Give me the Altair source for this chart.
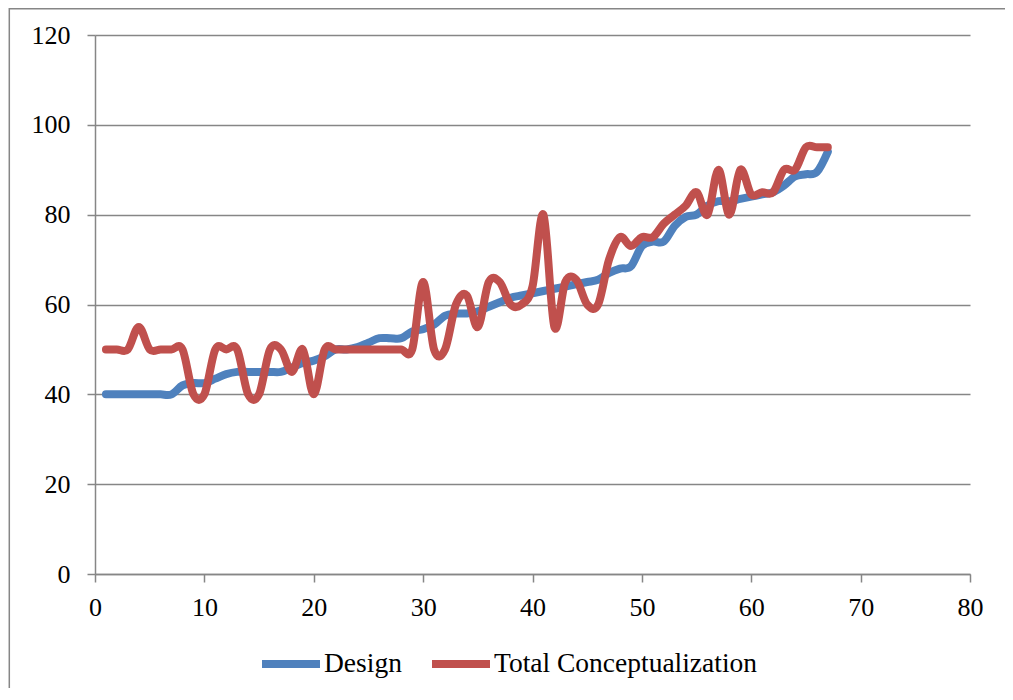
import altair as alt
import pandas as pd

x_vals = list(range(1, 68))

design = [40, 40, 40, 40, 40, 40, 40, 42, 42.5, 42.5,
          43.5, 44.5, 45, 45, 45, 45, 45, 46, 47, 47.5,
          48.5, 50, 50, 50.5, 51.5, 52.5, 52.5, 52.5, 54, 54.5,
          55.5, 57.5, 58, 58, 58.5, 59.5, 60.5, 61.5, 62, 62.5,
          63, 63.5, 64, 64.5, 65, 65.5, 67, 68, 68.5, 73,
          74, 74, 77.5, 79.5, 80, 82, 83, 83, 83.5, 84,
          84.5, 85, 86.5, 88.5, 89, 89.5, 94]

total = [50, 50, 50, 55, 50, 50, 50, 50, 40, 40,
         50, 50, 50, 40, 40, 50, 50, 45, 50, 40,
         50, 50, 50, 50, 50, 50, 50, 50, 50, 65,
         50, 50, 60, 62, 55, 65, 65, 60, 60, 64,
         80, 55, 65, 65.5, 60, 60, 70, 75, 73, 75,
         75, 78, 80, 82, 85, 80, 90, 80, 90, 84.5,
         85, 85, 90, 90, 95, 95, 95]

series_names = ["Design", "Total Conceptualization"]
series_colors = ["#4F81BD", "#C0504D"]
x_ticks = [0, 10, 20, 30, 40, 50, 60, 70, 80]
y_ticks = [0, 20, 40, 60, 80, 100, 120]

rows = []
for name, vals in zip(series_names, [design, total]):
    for xv, v in zip(x_vals, vals):
        rows.append({"x": xv, "value": v, "series": name})
df = pd.DataFrame(rows)

FONT = "Liberation Serif"
GRAY = "#868686"

lines = alt.Chart(df).mark_line(
    interpolate="cardinal", strokeWidth=8, strokeCap="round", strokeJoin="round"
).encode(
    x=alt.X("x:Q", scale=alt.Scale(domain=[0, 80], nice=False),
            axis=alt.Axis(values=x_ticks, title=None, grid=False, labelPadding=12,
                          labelFlush=False)),
    y=alt.Y("value:Q", scale=alt.Scale(domain=[0, 120], nice=False),
            axis=alt.Axis(values=y_ticks, title=None, grid=True, labelPadding=17)),
    color=alt.Color("series:N",
                    scale=alt.Scale(domain=series_names, range=series_colors),
                    legend=alt.Legend(title=None, orient="none", direction="horizontal",
                                      legendX=163, legendY=596,
                                      symbolType="stroke", symbolStrokeWidth=8,
                                      symbolSize=3364, labelFont=FONT, labelFontSize=27.5,
                                      labelColor="black", labelOffset=0,
                                      labelLimit=500, columnPadding=14)),
)

frame_df = pd.DataFrame({"k": [0]})
border_v = alt.Chart(frame_df).mark_rule(color=GRAY, strokeWidth=1.5).encode(
    x=alt.value(-85.7), y=alt.value(-27), y2=alt.value(653)
)
border_h = alt.Chart(frame_df).mark_rule(color=GRAY, strokeWidth=1.5).encode(
    x=alt.value(-86), x2=alt.value(910), y=alt.value(-26.2)
)

chart = alt.layer(border_v, border_h, lines).properties(
    width=875, height=539,
    padding={"left": 87, "top": 27, "right": 35, "bottom": 114},
    autosize=alt.AutoSizeParams(type="none"),
).configure_view(stroke=None).configure_axis(
    domainColor=GRAY, tickColor=GRAY, gridColor=GRAY,
    domainWidth=1.5, tickWidth=1.5, gridWidth=1.5, tickSize=8,
    labelFont=FONT, labelFontSize=26, labelColor="black",
)

chart.save("out.html", embed_options={"renderer": "svg", "actions": False})
